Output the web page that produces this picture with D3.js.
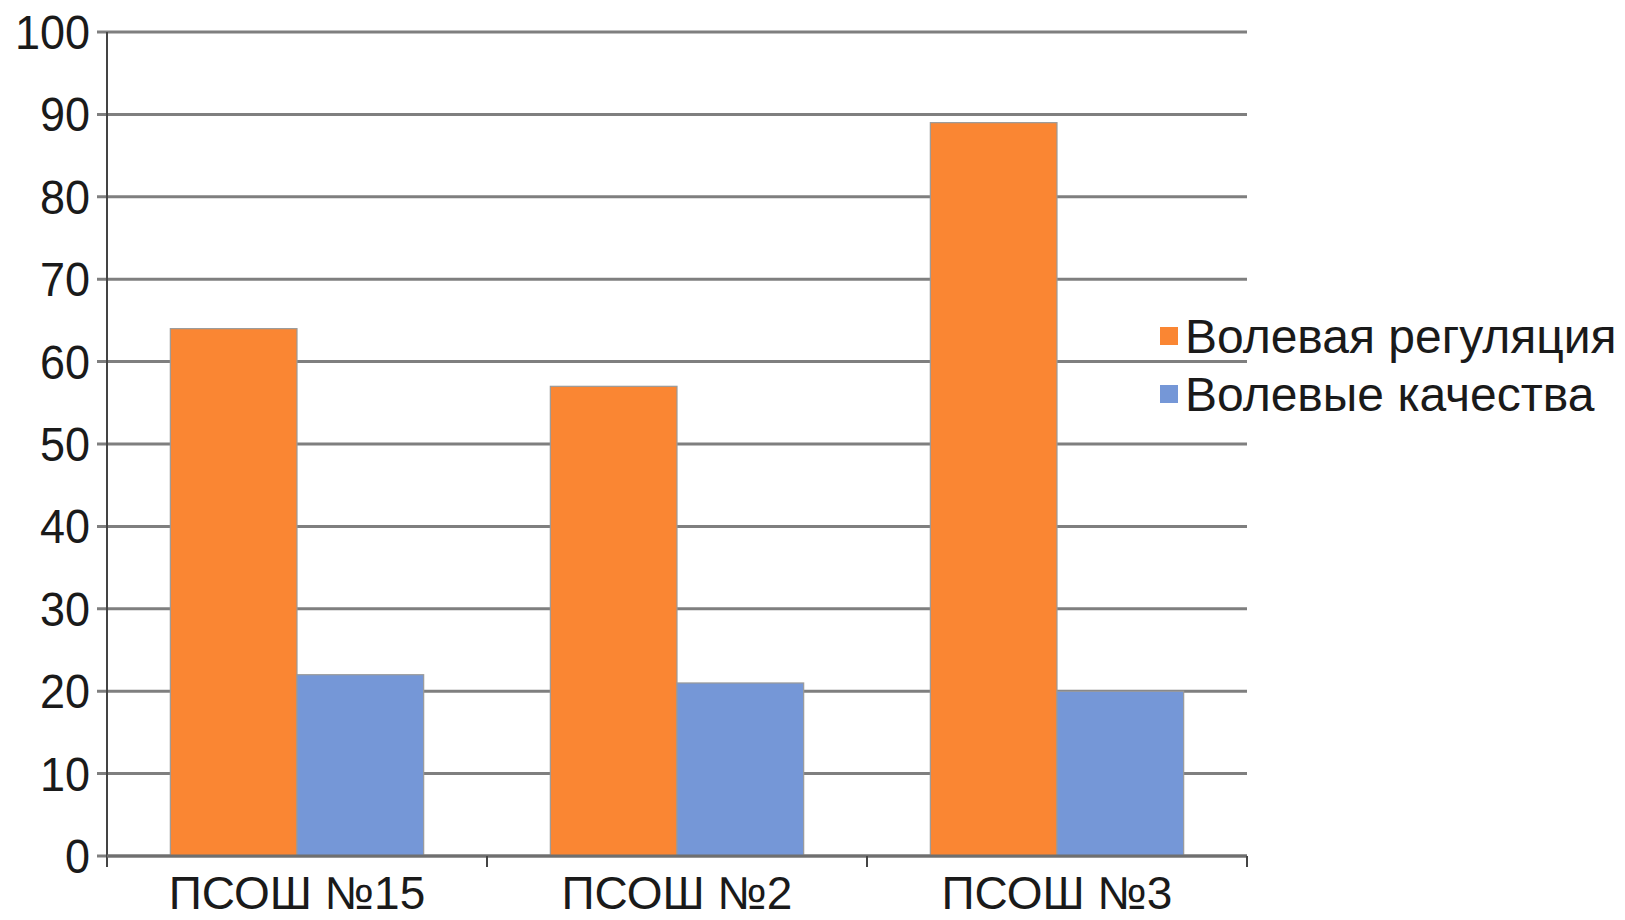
<!DOCTYPE html>
<html><head><meta charset="utf-8">
<script src="https://cdn.jsdelivr.net/npm/d3@7"></script>
<style>body{margin:0;background:#fff;} svg{display:block;font-family:"Liberation Sans",Arial,sans-serif;}</style>
</head><body>
<svg id="c" width="1625" height="920"></svg>
<script>
const categories = ["ПСОШ №15", "ПСОШ №2", "ПСОШ №3"];
const seriesNames = ["Волевая регуляция", "Волевые качества"];
const regulation = [64, 57, 89];
const qualities = [22, 21, 20];
const yTicks = [0, 10, 20, 30, 40, 50, 60, 70, 80, 90, 100];
const colors = ["#FA8633", "#7597D7"];

(function () {
const svg = d3.select("#c");
const pLeft = 107, pRight = 1247, pTop = 32, pBottom = 856;

const y = d3.scaleLinear().domain([0, 100]).range([pBottom, pTop]);
const x0 = d3.scaleBand().domain(categories).range([pLeft, pRight]).padding(0);
const bw = x0.bandwidth();
const x1 = d3.scaleBand().domain(seriesNames).range([bw / 6, bw * 5 / 6]).padding(0);

// gridlines
svg.append("g").selectAll("line").data(yTicks).join("line")
  .attr("x1", pLeft - 10).attr("x2", pRight)
  .attr("y1", d => y(d)).attr("y2", d => y(d))
  .attr("stroke", "#7f7f7f").attr("stroke-width", 3);

// y axis labels
svg.append("g").selectAll("text").data(yTicks).join("text")
  .attr("transform", d => `translate(90,${y(d) + 17}) scale(1,1.08)`)
  .attr("text-anchor", "end").attr("font-size", 45).attr("fill", "#1a1a1a")
  .text(d => d);

// bars
const data = categories.map((c, i) => ({c, vals: [regulation[i], qualities[i]]}));
const g = svg.append("g").selectAll("g").data(data).join("g")
  .attr("transform", d => `translate(${x0(d.c)},0)`);
g.selectAll("rect").data(d => d.vals.map((v, j) => ({v, s: seriesNames[j], j}))).join("rect")
  .attr("x", d => x1(d.s)).attr("width", x1.bandwidth())
  .attr("y", d => y(d.v)).attr("height", d => y(0) - y(d.v))
  .attr("fill", d => colors[d.j]).attr("stroke", "#9a9a9a").attr("stroke-width", 1.2);

// y axis line
svg.append("line").attr("x1", pLeft).attr("x2", pLeft).attr("y1", pTop).attr("y2", pBottom + 11)
  .attr("stroke", "#444").attr("stroke-width", 2);
// x axis line
svg.append("line").attr("x1", pLeft).attr("x2", pRight).attr("y1", pBottom).attr("y2", pBottom)
  .attr("stroke", "#6f6f6f").attr("stroke-width", 3);
// x ticks at category boundaries
const bounds = categories.map(c => x0(c) + bw);
svg.append("g").selectAll("line").data(bounds).join("line")
  .attr("x1", d => d).attr("x2", d => d).attr("y1", pBottom).attr("y2", pBottom + 11)
  .attr("stroke", "#444").attr("stroke-width", 2);

// category labels
svg.append("g").selectAll("text").data(categories).join("text")
  .attr("x", d => x0(d) + bw / 2).attr("y", 909)
  .attr("text-anchor", "middle").attr("font-size", 46).attr("fill", "#1a1a1a")
  .text(d => d);

// legend
const lg = svg.append("g").selectAll("g").data(seriesNames).join("g")
  .attr("transform", (d, i) => `translate(1160,${327 + i * 58})`);
lg.append("rect").attr("width", 18).attr("height", 18).attr("fill", (d, i) => colors[i]);
lg.append("text").attr("x", 25).attr("y", 26).attr("font-size", 48).attr("fill", "#1a1a1a").text(d => d);
})();
</script>
</body></html>
